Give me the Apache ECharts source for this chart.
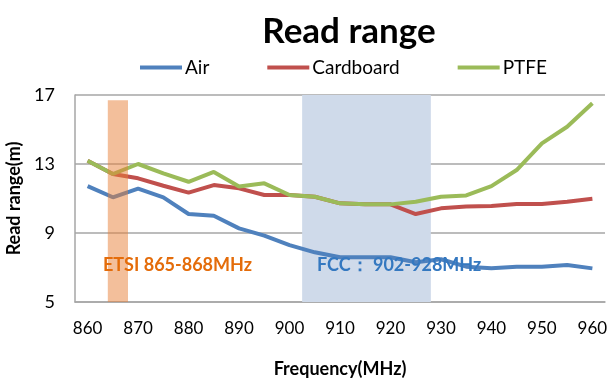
<!DOCTYPE html>
<html>
<head>
<meta charset="utf-8">
<script src="https://cdn.jsdelivr.net/npm/echarts@6/dist/echarts.min.js"></script>
<style>
html,body{margin:0;padding:0;background:#fff;}
#chart{width:615px;height:382px;}
</style>
</head>
<body>
<div id="chart"></div>
<script>
var frequencies = ['860','865','870','875','880','885','890','895','900','905','910','915','920','925','930','935','940','945','950','955','960'];
var airValues = [11.72,11.07,11.57,11.07,10.10,10.00,9.27,8.85,8.30,7.88,7.59,7.59,7.59,7.30,7.48,7.05,6.95,7.05,7.05,7.15,6.95];
var cardboardValues = [13.19,12.42,12.17,11.74,11.34,11.78,11.59,11.20,11.20,11.10,10.72,10.66,10.66,10.10,10.43,10.53,10.57,10.68,10.68,10.81,10.99];
var ptfeValues = [13.19,12.42,13.00,12.46,11.97,12.54,11.69,11.88,11.20,11.10,10.72,10.66,10.66,10.81,11.10,11.18,11.72,12.65,14.20,15.16,16.52];
var seriesNames = ['Air','Cardboard','PTFE'];
var yTicks = [5, 9, 13, 17];
var etsiBand = [864, 868, 5, 16.7];
var fccBand = [902.5, 928, 5, 17];
var etsiLabel = 'ETSI 865-868MHz';
var fccLabel = 'FCC\uFF1A 902-928MHz';

var FONT = 'Lato, "Open Sans", sans-serif';
var chart = echarts.init(document.getElementById('chart'));

function bandSeries(name, band, color, z) {
  return {
    type: 'custom',
    name: name,
    xAxisIndex: 1,
    yAxisIndex: 0,
    z: z,
    silent: true,
    data: [band],
    renderItem: function (params, api) {
      var p0 = api.coord([api.value(0), api.value(3)]);
      var p1 = api.coord([api.value(1), api.value(2)]);
      return {
        type: 'rect',
        shape: { x: p0[0], y: p0[1], width: p1[0] - p0[0], height: p1[1] - p0[1] },
        style: { fill: color }
      };
    }
  };
}

var option = {
  backgroundColor: '#fff',
  animation: false,
  title: {
    text: 'Read range',
    left: 344,
    textAlign: 'center',
    top: 9,
    textStyle: { fontFamily: FONT, fontSize: 35, fontWeight: 'bold', color: '#000' }
  },
  legend: {
    data: seriesNames,
    top: 53,
    left: 135,
    itemGap: 58,
    itemWidth: 42,
    itemHeight: 4,
    icon: 'rect',
    textStyle: { fontFamily: FONT, fontSize: 19, color: '#000', padding: [0, 0, 0, -2] }
  },
  grid: { left: 75, right: 10, top: 95, bottom: 80, outerBoundsMode: 'none', containLabel: false },
  xAxis: [{
    type: 'category',
    data: frequencies,
    boundaryGap: true,
    name: 'Frequency(MHz)',
    nameLocation: 'middle',
    nameGap: 58,
    nameTextStyle: { fontFamily: FONT, fontSize: 18, fontWeight: 'bold', color: '#000' },
    axisLine: { lineStyle: { color: '#a6a6a6', width: 1.5 } },
    axisTick: { show: false },
    axisLabel: { interval: 1, margin: 18, fontFamily: FONT, fontSize: 17, color: '#000' }
  }, {
    type: 'value',
    min: 857.5,
    max: 962.5,
    show: false
  }],
  yAxis: {
    type: 'value',
    min: yTicks[0],
    max: yTicks[yTicks.length - 1],
    interval: 4,
    name: 'Read range(m)',
    nameLocation: 'middle',
    nameGap: 42,
    nameTextStyle: { fontFamily: FONT, fontSize: 18, fontWeight: 'bold', color: '#000' },
    axisLine: { show: true, lineStyle: { color: '#a6a6a6', width: 1.5 } },
    axisTick: { show: false },
    axisLabel: { margin: 20, fontFamily: FONT, fontSize: 18, color: '#000' },
    splitLine: { lineStyle: { color: '#a6a6a6', width: 1.5 } }
  },
  graphic: [
    { type: 'text', left: 103, top: 256, z: 100,
      style: { text: etsiLabel, fill: '#E46C0A', font: 'bold 18px ' + FONT } },
    { type: 'text', left: 317, top: 256, z: 100,
      style: { text: fccLabel, fill: '#3478C0', font: 'bold 18px ' + FONT } }
  ],
  series: [
    bandSeries('FCC', fccBand, '#CFDAEA', 1),
    {
      name: seriesNames[0], type: 'line', data: airValues, z: 3,
      symbol: 'none', color: '#4F81BD', lineStyle: { width: 4, color: '#4F81BD' }
    },
    {
      name: seriesNames[1], type: 'line', data: cardboardValues, z: 4,
      symbol: 'none', color: '#C0504D', lineStyle: { width: 4, color: '#C0504D' }
    },
    {
      name: seriesNames[2], type: 'line', data: ptfeValues, z: 5,
      symbol: 'none', color: '#9BBB59', lineStyle: { width: 4, color: '#9BBB59' }
    },
    bandSeries('ETSI', etsiBand, 'rgba(232,128,56,0.5)', 10)
  ]
};
chart.setOption(option);
</script>
</body>
</html>
